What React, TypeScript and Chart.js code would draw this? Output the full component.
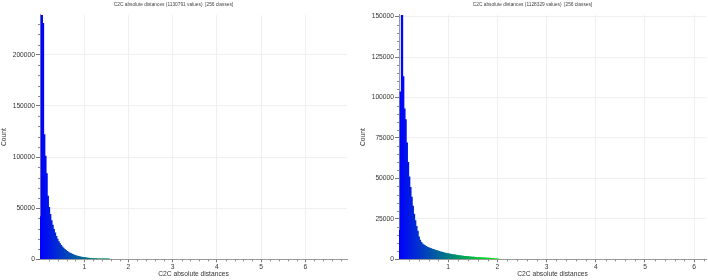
import React, { useEffect, useRef } from 'react';
import { Chart, registerables } from 'chart.js';

Chart.register(...registerables);

// ---------- data ----------
const CLASSES = 256;
const X_TITLE = 'C2C absolute distances';
const Y_TITLE = 'Count';

const LEFT_TITLE = 'C2C absolute distances (1130791 values)  [256 classes]';
const LEFT_X_RANGE = [0, 6.94];
// counts of the first classes (the later classes are ~0 and draw nothing)
const LEFT_COUNTS = [
  42000, 239000, 231000, 122000, 101000, 84000, 62000, 51000, 44000, 38000,
  33500, 29500, 26000, 22500, 19800, 17500, 15500, 13800, 12300, 11000,
  9900, 8900, 8000, 7200, 6500, 5850, 5250, 4700, 4250, 3850,
  3450, 3100, 2800, 2520, 2280, 2060, 1860, 1690, 1530, 1390,
  1260, 1140, 1040, 950, 860, 780, 710, 650, 590, 540,
  490, 445, 405, 370, 338, 308, 281, 256,
];

const RIGHT_TITLE = 'C2C absolute distances (1128329 values)  [256 classes]';
const RIGHT_X_RANGE = [0, 6.24];
const RIGHT_COUNTS = [
  18000, 103500, 151000, 113000, 93000, 86500, 72000, 60000, 51000, 44500,
  38500, 33000, 28000, 24000, 20500, 17500, 14000, 12000, 10600, 9700,
  9000, 8500, 8100, 7700, 7350, 7000, 6700, 6450, 6200, 5950,
  5700, 5450, 5200, 4980, 4760, 4550, 4350, 4150, 3960, 3780,
  3600, 3440, 3290, 3150, 3020, 2890, 2770, 2650, 2540, 2430,
  2330, 2230, 2140, 2050, 1960, 1880, 1800, 1720, 1650, 1580,
  1510, 1440, 1380, 1320, 1260, 1210, 1160, 1110, 1060, 1020,
  980, 940, 900, 860, 820, 780, 730, 670, 590, 480,
  350, 230, 150,
];

const X_MAJOR_STEP = 1;
const X_MINOR_STEP = 0.2;
const LEFT_Y_MAJOR = 50000;
const LEFT_Y_MINOR = 10000;
const RIGHT_Y_MAJOR = 25000;
const RIGHT_Y_MINOR = 5000;

// CloudCompare "Blue > Green > Yellow > Red" colour scale
const COLOR_STOPS = [
  [0, 0, 255],
  [0, 255, 0],
  [255, 255, 0],
  [255, 0, 0],
];

// ---------- helpers ----------
const FONT = "'Liberation Sans', Arial, Helvetica, sans-serif";

function scaleColor(t: number): string {
  const c = Math.max(0, Math.min(1, t)) * (COLOR_STOPS.length - 1);
  const i = Math.min(COLOR_STOPS.length - 2, Math.floor(c));
  const f = c - i;
  const a = COLOR_STOPS[i];
  const b = COLOR_STOPS[i + 1];
  const r = Math.round(a[0] + (b[0] - a[0]) * f);
  const g = Math.round(a[1] + (b[1] - a[1]) * f);
  const bl = Math.round(a[2] + (b[2] - a[2]) * f);
  return `rgb(${r},${g},${bl})`;
}

function stepTicks(min: number, max: number, step: number) {
  const out: { value: number }[] = [];
  for (let k = Math.ceil(min / step - 1e-9); k * step <= max + 1e-9; k++) {
    out.push({ value: Math.round(k * step * 1e6) / 1e6 });
  }
  return out;
}

const minorTicksPlugin = {
  id: 'minorTicks',
  afterDraw(chart: any, _args: any, opts: any) {
    const ctx = chart.ctx;
    const xs = chart.scales.x;
    const ys = chart.scales.y;
    ctx.save();
    ctx.strokeStyle = opts.color;
    ctx.lineWidth = 1;
    ctx.beginPath();
    const xRatio = Math.round(opts.xMajor / opts.xMinor);
    for (let k = Math.ceil(xs.min / opts.xMinor); k * opts.xMinor <= xs.max + 1e-9; k++) {
      if (k % xRatio === 0) continue;
      const px = Math.round(xs.getPixelForValue(k * opts.xMinor)) + 0.5;
      ctx.moveTo(px, ys.bottom);
      ctx.lineTo(px, ys.bottom + opts.len);
    }
    const yRatio = Math.round(opts.yMajor / opts.yMinor);
    for (let k = Math.ceil(ys.min / opts.yMinor); k * opts.yMinor <= ys.max + 1e-9; k++) {
      if (k % yRatio === 0) continue;
      const py = Math.round(ys.getPixelForValue(k * opts.yMinor)) + 0.5;
      ctx.moveTo(xs.left - opts.len, py);
      ctx.lineTo(xs.left, py);
    }
    ctx.stroke();
    ctx.restore();
  },
};

type HistProps = {
  title: string;
  range: number[];
  counts: number[];
  yMajor: number;
  yMinor: number;
  width: number;
  height: number;
  padRight: number;
};

function Histogram({ title, range, counts, yMajor, yMinor, width, height, padRight }: HistProps) {
  const ref = useRef<HTMLCanvasElement | null>(null);

  useEffect(() => {
    if (!ref.current) return;
    const [xMin, xMax] = range;
    const binW = (xMax - xMin) / CLASSES;
    const points = counts.map((c, i) => ({ x: xMin + (i + 0.5) * binW, y: c }));
    const colors = points.map((p) => scaleColor((p.x - xMin) / (xMax - xMin)));
    const yMax = Math.max(...counts);
    const tickFont = { family: FONT, size: 6.7 };
    const textColor = '#333';

    const chart = new Chart(ref.current, {
      type: 'bar',
      data: {
        datasets: [
          {
            data: points as any,
            backgroundColor: (c: any) => colors[c.dataIndex],
            borderWidth: 0,
            barPercentage: 1.6,
            categoryPercentage: 1,
            inflateAmount: 0.2,
          },
        ],
      },
      options: {
        animation: false,
        responsive: false,
        layout: { padding: { left: 0, right: padRight, top: 0, bottom: 0 } },
        plugins: {
          legend: { display: false },
          tooltip: { enabled: false },
          title: {
            display: true,
            text: title,
            color: '#444',
            font: { family: FONT, size: 4.8, weight: 'normal' },
            padding: { top: 1.5, bottom: 7.7 },
          },
          minorTicks: {
            color: '#888',
            len: 2,
            xMajor: X_MAJOR_STEP,
            xMinor: X_MINOR_STEP,
            yMajor,
            yMinor,
          },
        } as any,
        scales: {
          x: {
            type: 'linear',
            min: xMin,
            max: xMax,
            offset: false,
            grid: { color: '#efefef', tickColor: '#777', tickLength: 3, offset: false },
            border: { color: '#999' },
            afterBuildTicks: (s: any) => {
              s.ticks = stepTicks(xMin, xMax, X_MAJOR_STEP).filter((t) => t.value !== 0);
            },
            ticks: {
              autoSkip: false,
              maxRotation: 0,
              padding: 1,
              color: textColor,
              font: tickFont,
              callback: (v: any) => String(v),
            },
            title: {
              display: true,
              text: X_TITLE,
              color: textColor,
              font: tickFont,
              padding: { top: 0, bottom: 2 },
            },
            afterFit: (s: any) => {
              s.height = 20.7;
            },
          },
          y: {
            min: 0,
            max: yMax,
            grid: { color: '#efefef', tickColor: '#777', tickLength: 4 },
            border: { color: '#999' },
            afterBuildTicks: (s: any) => {
              s.ticks = stepTicks(0, yMax, yMajor);
            },
            ticks: {
              autoSkip: false,
              padding: 1,
              color: textColor,
              font: tickFont,
              callback: (v: any) => String(v),
            },
            title: {
              display: true,
              text: Y_TITLE,
              color: textColor,
              font: tickFont,
              padding: 0,
            },
            afterFit: (s: any) => {
              s.width = 40;
            },
          },
        } as any,
      },
      plugins: [minorTicksPlugin as any],
    });
    return () => chart.destroy();
  }, [title, range, counts, yMajor, yMinor, padRight]);

  return <canvas ref={ref} width={width} height={height} style={{ width, height, display: 'block' }} />;
}

export default function App() {
  return (
    <div style={{ position: 'fixed', left: 0, top: 0, width: 708, height: 280, background: '#fff' }}>
      <div style={{ position: 'absolute', left: 0, top: 0 }}>
        <Histogram
          title={LEFT_TITLE}
          range={LEFT_X_RANGE}
          counts={LEFT_COUNTS}
          yMajor={LEFT_Y_MAJOR}
          yMinor={LEFT_Y_MINOR}
          width={354}
          height={280}
          padRight={7}
        />
      </div>
      <div style={{ position: 'absolute', left: 359, top: 0 }}>
        <Histogram
          title={RIGHT_TITLE}
          range={RIGHT_X_RANGE}
          counts={RIGHT_COUNTS}
          yMajor={RIGHT_Y_MAJOR}
          yMinor={RIGHT_Y_MINOR}
          width={349}
          height={280}
          padRight={2}
        />
      </div>
    </div>
  );
}
